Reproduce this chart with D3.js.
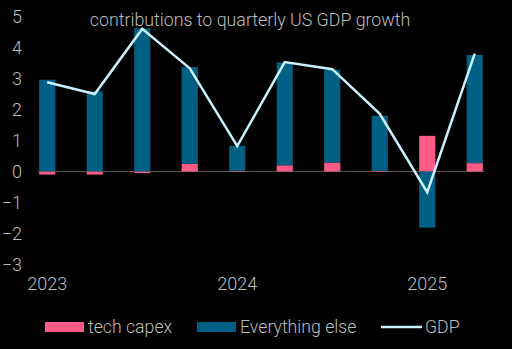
<!DOCTYPE html>
<html><head><meta charset="utf-8">
<script src="https://cdn.jsdelivr.net/npm/d3@7"></script>
<style>
html,body{margin:0;padding:0;background:#000;}
svg{display:block;font-family:Roboto,"Noto Sans",sans-serif;font-weight:300;}
</style></head>
<body>
<svg id="chart" width="512" height="349"></svg>
<script>
const quarters = ["2023Q1","2023Q2","2023Q3","2023Q4","2024Q1","2024Q2","2024Q3","2024Q4","2025Q1","2025Q2"];
const techCapex = [-0.10,-0.10,-0.05,0.25,0.02,0.20,0.29,0.02,1.15,0.27];
const everythingElse = [2.96,2.59,4.62,3.12,0.81,3.32,2.99,1.78,-1.81,3.49];
const gdp = [2.88,2.50,4.60,3.33,0.82,3.53,3.30,1.86,-0.67,3.80];
const yTicks = [5,4,3,2,1,0,-1,-2,-3];
const xTickLabels = [{q:"2023Q1",label:"2023"},{q:"2024Q1",label:"2024"},{q:"2025Q1",label:"2025"}];
const legendItems = [
  {name:"tech capex", type:"rect", color:"#ff5a87"},
  {name:"Everything else", type:"rect", color:"#005f82"},
  {name:"GDP", type:"line", color:"#c9f1ff"}
];

const svg = d3.select("#chart");
const textColor = "#bdbdbd";

const x = d3.scaleBand().domain(quarters).range([23.5, 498.5]).paddingInner(0.66).paddingOuter(0.33);
const y = d3.scaleLinear().domain([-3,5]).range([264.5, 16.5]);

// zero line
svg.append("line").attr("x1",38).attr("x2",484).attr("y1",y(0)).attr("y2",y(0))
  .attr("stroke","#555").attr("stroke-width",1);

// stacked bars with diverging stacking
const g = svg.append("g");
quarters.forEach((q,i)=>{
  let pos = 0, neg = 0;
  const parts = [{v:techCapex[i], c:"#ff5a87"},{v:everythingElse[i], c:"#005f82"}];
  parts.forEach(p=>{
    let y0, y1;
    if (p.v >= 0) { y0 = pos; y1 = pos + p.v; pos = y1; }
    else { y0 = neg; y1 = neg + p.v; neg = y1; }
    g.append("rect")
      .attr("x", x(q)).attr("width", x.bandwidth())
      .attr("y", y(Math.max(y0,y1))).attr("height", Math.abs(y(y0)-y(y1)))
      .attr("fill", p.c);
  });
});

// GDP line
const line = d3.line().x((d,i)=>x(quarters[i])+x.bandwidth()/2).y(d=>y(d));
svg.append("path").datum(gdp).attr("d", line).attr("fill","none")
  .attr("stroke","#c9f1ff").attr("stroke-width",2.5).attr("stroke-linejoin","miter");

// y axis labels
const yAxis = d3.axisLeft(y).tickValues(yTicks).tickSize(0).tickPadding(0).tickFormat(d3.format("d"));
const ya = svg.append("g").attr("transform","translate(22,0)").call(yAxis);
ya.select(".domain").remove();
ya.selectAll("text").attr("fill",textColor).attr("font-size",18).attr("font-family","Roboto").attr("font-weight",300);

// x axis labels
const xAxis = d3.axisBottom(x).tickValues(xTickLabels.map(d=>d.q)).tickSize(0).tickPadding(0)
  .tickFormat(q=>xTickLabels.find(d=>d.q===q).label);
const xa = svg.append("g").attr("transform","translate(0,277)").call(xAxis);
xa.select(".domain").remove();
xa.selectAll("text").attr("fill",textColor).attr("font-size",18).attr("font-family","Roboto").attr("font-weight",300);

// title
svg.append("text").attr("x",250).attr("y",26).attr("text-anchor","middle")
  .attr("fill",textColor).attr("font-size",17.8).text("contributions to quarterly US GDP growth");

// legend
const legendX = [45, 197, 381];
legendItems.forEach((d,i)=>{
  const lg = svg.append("g").attr("transform",`translate(${legendX[i]},0)`);
  if (d.type==="rect") lg.append("rect").attr("x",0).attr("y",322).attr("width",39).attr("height",10).attr("fill",d.color);
  else lg.append("line").attr("x1",0).attr("x2",41).attr("y1",327).attr("y2",327).attr("stroke",d.color).attr("stroke-width",2.5);
  lg.append("text").attr("x", d.type==="rect"?43:44).attr("y",333).attr("fill",textColor)
    .attr("font-size",17.7).text(d.name);
});
</script>
</body></html>
